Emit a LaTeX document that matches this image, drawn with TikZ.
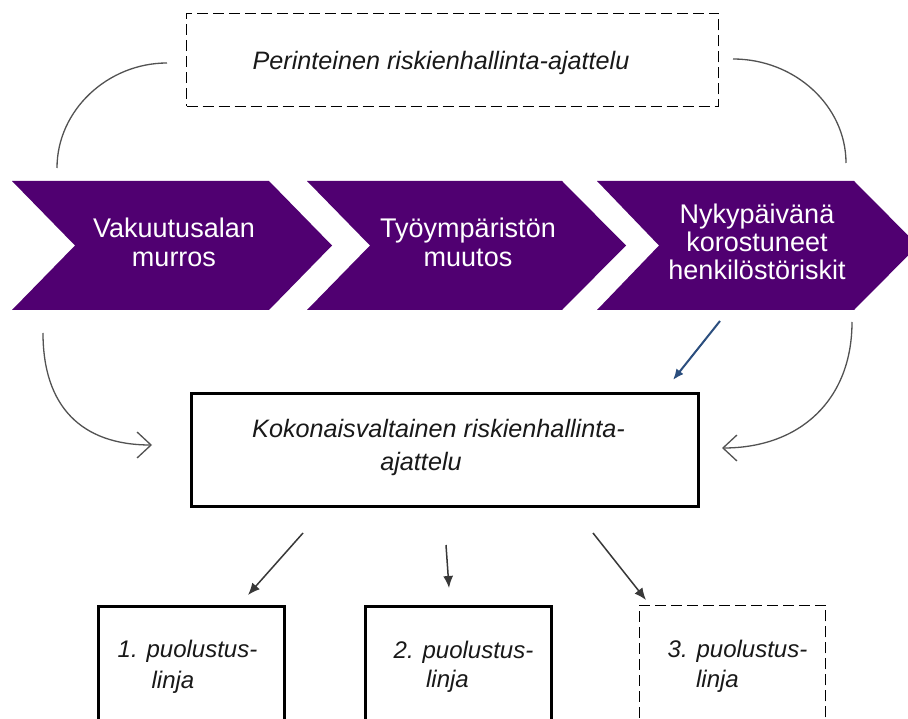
\documentclass[tikz,border=0pt]{standalone}
\usepackage{fontspec}
\setmainfont{Liberation Sans}
\usetikzlibrary{arrows.meta}
\definecolor{chev}{HTML}{500071}
\definecolor{bluearr}{HTML}{2B4E7E}
\begin{document}
\begin{tikzpicture}[x=1pt,y=-1pt,
  chevtxt/.style={text=white, font=\fontsize{27}{29}\selectfont, anchor=base, inner sep=0pt},
  ittxt/.style={font=\fontsize{24}{28}\selectfont\itshape, anchor=base, inner sep=0pt, text=black!90},
  bigit/.style={ittxt, font=\fontsize{25.2}{28}\selectfont\itshape},
  solidbox/.style={draw=black, line width=3pt, inner sep=0pt},
  dashbox/.style={draw=black, line width=1.7pt, dash pattern=on 11pt off 5pt, inner sep=0pt},
  chevshape/.style={fill=chev, draw=none},
  curvearr/.style={draw=black!68, line width=1.3pt},
  barb/.style={-{Straight Barb[length=14pt,width=26pt,line width=1.3pt]}},
  straightarr/.style={draw=black!78, line width=1.5pt, -{Latex[length=12pt,width=10pt]}},
  bluearrow/.style={draw=bluearr, line width=2pt, -{Latex[length=11pt,width=9pt]}}
]
\useasboundingbox (0,0) rectangle (908,719);
\fill[white] (0,0) rectangle (908,719);

% chevrons
\path[chevshape] (12,181) -- (269,181) -- (332,245.5) -- (269,310) -- (12,310) -- (75,245.5) -- cycle;
\path[chevshape] (307,181) -- (562,181) -- (626,245.5) -- (562,310) -- (307,310) -- (370,245.5) -- cycle;
\path[chevshape] (597,181) -- (854,181) -- (908,235.4) -- (908,255.6) -- (854,310) -- (597,310) -- (659,245.5) -- cycle;

\node[chevtxt] (c1a) at (174,238) {Vakuutusalan};
\node[chevtxt] (c1b) at (174,267) {murros};
\node[chevtxt] (c2a) at (468,238) {Työympäristön};
\node[chevtxt] (c2b) at (468,267) {muutos};
\node[chevtxt] (c3a) at (757,224) {Nykypäivänä};
\node[chevtxt] (c3b) at (757,252) {korostuneet};
\node[chevtxt] (c3c) at (757,280) {henkilöstöriskit};

% top dashed box
\node[dashbox, minimum width=532pt, minimum height=93pt] (top) at (452.5,60) {};
\node[bigit] (toptxt) at (441,70) {Perinteinen riskienhallinta-ajattelu};

% middle box
\node[solidbox, minimum width=507pt, minimum height=113pt] (mid) at (445,450) {};
\node[bigit] (midtxt1) at (438.5,437) {Kokonaisvaltainen riskienhallinta-};
\node[bigit] (midtxt2) at (421,470) {ajattelu};

% bottom boxes
\node[solidbox, anchor=north, minimum width=186pt, minimum height=150pt] (b1) at (191.5,604.5) {};
\node[solidbox, anchor=north, minimum width=186pt, minimum height=150pt] (b2) at (458.5,604.5) {};
\node[dashbox, anchor=north, minimum width=186pt, minimum height=150pt] (b3) at (732.5,604.5) {};
\node[ittxt] (b1t1) at (187.5,657) {1. puolustus-};
\node[ittxt] (b1t2) at (173,688) {linja};
\node[ittxt] (b2t1) at (463.5,658) {2. puolustus-};
\node[ittxt] (b2t2) at (447.5,687) {linja};
\node[ittxt] (b3t1) at (737.5,657) {3. puolustus-};
\node[ittxt] (b3t2) at (717.5,687) {linja};

% connector end points
\coordinate (tl1) at (167,63);
\coordinate (tl2) at (57,168);
\coordinate (tr1) at (733,59);
\coordinate (tr2) at (846,163);
\coordinate (ll1) at (43,333);
\coordinate (ll2) at (152,445);
\coordinate (rl1) at (852,322);
\coordinate (rl2) at (722,448);
\coordinate (bl1) at (720,321);
\coordinate (bl2) at (673,380);
\coordinate (a1s) at (303,533);
\coordinate (a1e) at (248,595);
\coordinate (a2s) at (446,545);
\coordinate (a2e) at (449,588);
\coordinate (a3s) at (593,533);
\coordinate (a3e) at (646,600);

% curves
\draw[curvearr] (tl1) .. controls (108,63) and (57,110) .. (tl2);
\draw[curvearr] (tr1) .. controls (795,59) and (846,106) .. (tr2);
\draw[curvearr, barb] (ll1) .. controls (43,406) and (81,445) .. (ll2);
\draw[curvearr, barb] (rl1) .. controls (852,400) and (800,448) .. (rl2);

% straight arrows
\draw[bluearrow] (bl1) -- (bl2);
\draw[straightarr] (a1s) -- (a1e);
\draw[straightarr] (a2s) -- (a2e);
\draw[straightarr] (a3s) -- (a3e);
\end{tikzpicture}
\end{document}
